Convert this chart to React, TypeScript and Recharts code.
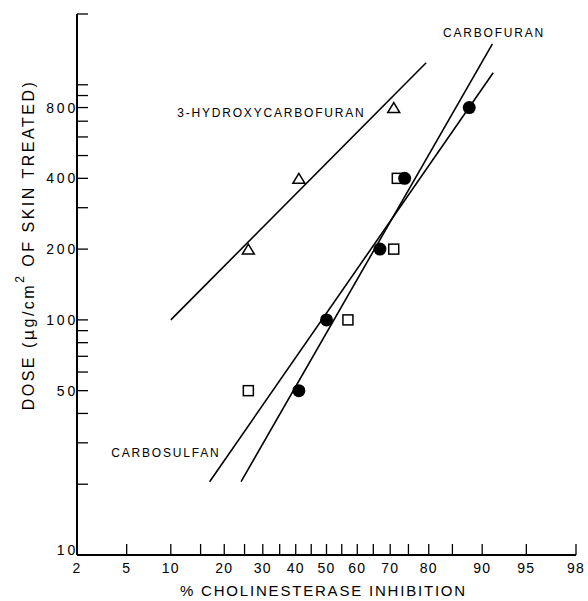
import { ComposedChart, Line, Scatter, XAxis, YAxis, Label } from 'recharts';

// % inhibition (x) and dose in µg/cm² (y)
const hydroxyPct = [26, 41, 71];
const hydroxyDose = [200, 400, 800];
const carbofuranPct = [41, 50, 67, 74, 88];
const carbofuranDose = [50, 100, 200, 400, 800];
const carbosulfanPct = [26, 57, 71, 72];
const carbosulfanDose = [50, 100, 200, 400];

// fitted lines, end points
const hydroxyFitPct = [10, 79.4];
const hydroxyFitDose = [100, 1240];
const fitAPct = [16.8, 91.5];
const fitADose = [20.5, 1125];
const fitBPct = [24.1, 91.4];
const fitBDose = [20.5, 1494];

// in-plot labels
const labelText = ['3-HYDROXYCARBOFURAN', 'CARBOFURAN', 'CARBOSULFAN'];
const labelPct = [32.5, 91.6, 9.3];
const labelDose = [760, 1663, 27.2];

const xTickPct = [2, 5, 10, 15, 20, 25, 30, 35, 40, 45, 50, 55, 60, 65, 70, 75, 80, 85, 90, 95, 98];
const xLabelPct = [2, 5, 10, 20, 30, 40, 50, 60, 70, 80, 90, 95, 98];
const yTicks = [10, 20, 30, 40, 50, 60, 70, 80, 90, 100, 200, 300, 400, 500, 600, 700, 800, 900, 1000, 2000];
const yLabels = [10, 50, 100, 200, 400, 800];

// inverse normal CDF (Acklam), percent -> probit units
function probit(pct: number) {
  const p = pct / 100;
  const a = [-39.69683028665376, 220.9460984245205, -275.9285104469687, 138.357751867269, -30.66479806614716, 2.506628277459239];
  const b = [-54.47609879822406, 161.5858368580409, -155.6989798598866, 66.80131188771972, -13.28068155288572];
  const c = [-0.007784894002430293, -0.3223964580411365, -2.400758277161838, -2.549671850383213, 4.374664141464968, 2.938163982698783];
  const d = [0.007784695709041462, 0.3224671290700398, 2.445134137142996, 3.754408661907416];
  const pl = 0.02425;
  if (p < pl) {
    const q = Math.sqrt(-2 * Math.log(p));
    return (((((c[0] * q + c[1]) * q + c[2]) * q + c[3]) * q + c[4]) * q + c[5]) / ((((d[0] * q + d[1]) * q + d[2]) * q + d[3]) * q + 1);
  }
  if (p <= 1 - pl) {
    const q = p - 0.5;
    const r = q * q;
    return (((((a[0] * r + a[1]) * r + a[2]) * r + a[3]) * r + a[4]) * r + a[5]) * q / (((((b[0] * r + b[1]) * r + b[2]) * r + b[3]) * r + b[4]) * r + 1);
  }
  const q = Math.sqrt(-2 * Math.log(1 - p));
  return -(((((c[0] * q + c[1]) * q + c[2]) * q + c[3]) * q + c[4]) * q + c[5]) / ((((d[0] * q + d[1]) * q + d[2]) * q + d[3]) * q + 1);
}

const toPoints = (pct: number[], dose: number[]) => pct.map((p, i) => ({ x: probit(p), y: dose[i] }));

const hydroxyData = toPoints(hydroxyPct, hydroxyDose);
const carbofuranData = toPoints(carbofuranPct, carbofuranDose);
const carbosulfanData = toPoints(carbosulfanPct, carbosulfanDose);
const hydroxyFit = toPoints(hydroxyFitPct, hydroxyFitDose);
const fitA = toPoints(fitAPct, fitADose);
const fitB = toPoints(fitBPct, fitBDose);
const labelData = labelPct.map((p, i) => ({ x: probit(p), y: labelDose[i], text: labelText[i] }));

const FONT = '"Liberation Sans", Arial, sans-serif';

const XTick = (props: any) => {
  const { x, y, index } = props;
  const pct = xTickPct[index];
  return (
    <g>
      <line x1={x} y1={y} x2={x} y2={y - 11} stroke="#000" strokeWidth={1.3} />
      {xLabelPct.includes(pct) && (
        <text x={x} y={y + 18} textAnchor="middle" fontFamily={FONT} fontSize={14} letterSpacing={1.2} fill="#000">
          {pct}
        </text>
      )}
    </g>
  );
};

const YTick = (props: any) => {
  const { x, y, payload } = props;
  const v = payload.value;
  // the bottom label sits a little above the axis corner
  const dy = v === 10 ? 0 : 5;
  return (
    <g>
      <line x1={x} y1={y} x2={x + 11} y2={y} stroke="#000" strokeWidth={1.3} />
      {yLabels.includes(v) && (
        <text x={x + 1} y={y + dy} textAnchor="end" fontFamily={FONT} fontSize={14} letterSpacing={2.8} fill="#000">
          {v}
        </text>
      )}
    </g>
  );
};

const Triangle = (p: any) => (
  <polygon
    points={`${p.cx},${p.cy - 5} ${p.cx - 6},${p.cy + 5} ${p.cx + 6},${p.cy + 5}`}
    fill="#fff" stroke="#000" strokeWidth={1.5}
  />
);
const Dot = (p: any) => <circle cx={p.cx} cy={p.cy} r={6.5} fill="#000" />;
const Square = (p: any) => (
  <rect x={p.cx - 5} y={p.cy - 5} width={10} height={10} fill="#fff" stroke="#000" strokeWidth={1.5} />
);
const TextMark = (p: any) => (
  <text x={p.cx} y={p.cy} textAnchor="middle" dominantBaseline="central" fontFamily={FONT} fontSize={12} letterSpacing={1.8} fill="#000">
    {p.payload.text}
  </text>
);

const XTitle = (props: any) => {
  const { viewBox } = props;
  return (
    <text x={viewBox.x + viewBox.width / 2 - 3} y={viewBox.y + 41} textAnchor="middle"
      fontFamily={FONT} fontSize={15} letterSpacing={1.8} fill="#000">
      {'%  CHOLINESTERASE  INHIBITION'}
    </text>
  );
};

const YTitle = (props: any) => {
  const { viewBox } = props;
  const cx = viewBox.x + 28;
  const cy = 245;
  return (
    <text transform={`translate(${cx},${cy}) rotate(-90)`} textAnchor="middle" dominantBaseline="central"
      fontFamily={FONT} fontSize={16} letterSpacing={2.5} fill="#000">
      <tspan>DOSE (</tspan>
      <tspan fontFamily="DejaVu Sans">μ</tspan>
      <tspan>g/cm</tspan>
      <tspan fontSize={12} dy={-8}>2</tspan>
      <tspan dy={8}>{'  OF  SKIN  TREATED)'}</tspan>
    </text>
  );
};

export default function App() {
  return (
    <div style={{ position: 'absolute', left: 0, top: 0, background: '#fff' }}>
      <ComposedChart width={588} height={601} margin={{ top: 14, right: 12, left: 0, bottom: 0 }}>
        <XAxis
          dataKey="x"
          type="number"
          domain={[probit(2), probit(98)]}
          ticks={xTickPct.map(probit)}
          allowDataOverflow
          height={46}
          tickSize={0}
          tickMargin={0}
          tickLine={false}
          tick={<XTick />}
          axisLine={{ stroke: '#000', strokeWidth: 2 }}
          interval={0}
        >
          <Label content={<XTitle />} />
        </XAxis>
        <YAxis
          dataKey="y"
          type="number"
          scale="log"
          domain={[10, 2000]}
          ticks={yTicks}
          allowDataOverflow
          width={77}
          tickSize={0}
          tickMargin={0}
          tickLine={false}
          tick={<YTick />}
          axisLine={{ stroke: '#000', strokeWidth: 2 }}
          interval={0}
        >
          <Label content={<YTitle />} />
        </YAxis>
        <Line data={hydroxyFit} dataKey="y" stroke="#000" strokeWidth={1.6} dot={false} isAnimationActive={false} />
        <Line data={fitA} dataKey="y" stroke="#000" strokeWidth={1.6} dot={false} isAnimationActive={false} />
        <Line data={fitB} dataKey="y" stroke="#000" strokeWidth={1.6} dot={false} isAnimationActive={false} />
        <Scatter data={hydroxyData} shape={Triangle} isAnimationActive={false} />
        <Scatter data={carbosulfanData} shape={Square} isAnimationActive={false} />
        <Scatter data={carbofuranData} shape={Dot} isAnimationActive={false} />
        <Scatter data={labelData} shape={TextMark} isAnimationActive={false} />
      </ComposedChart>
    </div>
  );
}
